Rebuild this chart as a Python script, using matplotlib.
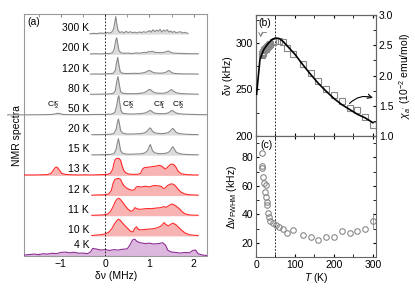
import matplotlib
matplotlib.use("Agg")
import matplotlib.pyplot as plt
from matplotlib.ticker import MultipleLocator, FixedLocator

plt.rcParams['font.family'] = ['Liberation Sans', 'DejaVu Sans']
plt.rcParams['mathtext.fontset'] = 'custom'
plt.rcParams['mathtext.rm'] = 'Liberation Sans'
plt.rcParams['mathtext.it'] = 'Liberation Sans:italic'
plt.rcParams['mathtext.bf'] = 'Liberation Sans:bold'
plt.rcParams['font.size'] = 7.5

# ---------------- panel (a) spectra (MHz, arbitrary height) ----------------
x300 = [-0.34,-0.25,-0.18,-0.1,-0.03,0.05,0.1,0.15,0.19,0.22,0.24,0.26,0.29,0.33,0.38,0.43,0.47,0.52,0.57,0.62,0.67,0.72,0.77,0.82,0.87,0.92,0.97,1.0,1.04,1.08,1.12,1.16,1.2,1.24,1.28,1.32,1.36,1.4,1.44,1.48,1.52,1.56,1.6,1.65,1.7,1.75,1.8,1.87]
y300 = [0.02,0.04,0.03,0.06,0.04,0.08,0.05,0.1,0.25,0.6,0.87,0.55,0.2,0.08,0.12,0.06,0.14,0.08,0.12,0.07,0.1,0.06,0.11,0.08,0.12,0.09,0.13,0.18,0.1,0.22,0.12,0.2,0.14,0.24,0.1,0.2,0.15,0.22,0.1,0.16,0.08,0.14,0.07,0.1,0.12,0.06,0.09,0.04]

x200 = [-0.33,-0.2,-0.1,0.0,0.1,0.17,0.21,0.24,0.26,0.28,0.31,0.35,0.42,0.5,0.6,0.7,0.8,0.88,0.94,0.98,1.02,1.06,1.12,1.2,1.28,1.35,1.4,1.44,1.48,1.55,1.65,1.8,1.95,2.1]
y200 = [0.02,0.03,0.02,0.04,0.04,0.08,0.3,0.7,0.82,0.6,0.2,0.08,0.05,0.06,0.04,0.07,0.06,0.1,0.08,0.14,0.12,0.16,0.1,0.09,0.08,0.11,0.15,0.16,0.1,0.06,0.05,0.04,0.03,0.03]

x120 = [-0.33,-0.2,-0.1,0.0,0.1,0.18,0.23,0.26,0.285,0.31,0.34,0.38,0.45,0.55,0.65,0.75,0.85,0.92,0.97,1.0,1.03,1.07,1.12,1.2,1.3,1.38,1.43,1.46,1.5,1.55,1.65,1.8,1.95,2.1]
y120 = [0.02,0.03,0.02,0.03,0.04,0.06,0.2,0.6,0.85,0.5,0.15,0.07,0.05,0.05,0.06,0.05,0.08,0.12,0.18,0.2,0.17,0.12,0.08,0.07,0.07,0.12,0.2,0.18,0.1,0.06,0.04,0.03,0.03,0.02]

x80 = [-0.33,-0.2,-0.1,0.0,0.1,0.18,0.23,0.26,0.29,0.32,0.35,0.4,0.5,0.6,0.7,0.8,0.88,0.94,0.98,1.02,1.06,1.1,1.16,1.25,1.35,1.42,1.47,1.5,1.54,1.6,1.7,1.85,2.0,2.1]
y80 = [0.02,0.02,0.03,0.03,0.04,0.06,0.2,0.6,0.9,0.5,0.15,0.07,0.05,0.05,0.05,0.07,0.1,0.17,0.24,0.26,0.18,0.12,0.08,0.07,0.08,0.14,0.22,0.25,0.18,0.1,0.06,0.04,0.03,0.02]

x50 = [-2.2,-1.8,-1.4,-1.2,-1.12,-1.07,-1.02,-0.95,-0.8,-0.5,-0.2,0.0,0.15,0.22,0.26,0.29,0.31,0.33,0.36,0.4,0.5,0.6,0.7,0.8,0.9,0.96,1.0,1.03,1.06,1.1,1.16,1.25,1.35,1.43,1.48,1.52,1.56,1.62,1.7,1.85,2.0,2.15,2.3]
y50 = [0.0,0.0,0.01,0.02,0.05,0.08,0.06,0.02,0.01,0.01,0.02,0.02,0.04,0.12,0.45,0.85,0.95,0.6,0.2,0.08,0.05,0.04,0.05,0.06,0.09,0.15,0.2,0.22,0.16,0.1,0.07,0.06,0.06,0.1,0.18,0.22,0.15,0.08,0.05,0.03,0.02,0.01,0.01]

x20 = [-0.3,-0.15,0.0,0.12,0.2,0.25,0.28,0.3,0.32,0.35,0.4,0.5,0.6,0.7,0.8,0.88,0.94,0.98,1.01,1.03,1.06,1.1,1.16,1.25,1.35,1.42,1.47,1.51,1.53,1.56,1.6,1.66,1.75,1.9,2.1]
y20 = [0.02,0.02,0.03,0.04,0.08,0.3,0.65,0.8,0.6,0.22,0.09,0.05,0.05,0.06,0.07,0.1,0.17,0.28,0.35,0.33,0.22,0.13,0.09,0.07,0.08,0.12,0.2,0.3,0.33,0.25,0.14,0.08,0.05,0.03,0.02]

x15 = [-0.3,-0.15,0.0,0.12,0.2,0.25,0.28,0.3,0.32,0.35,0.4,0.5,0.6,0.7,0.8,0.88,0.94,0.98,1.0,1.02,1.04,1.07,1.12,1.2,1.3,1.38,1.44,1.48,1.51,1.53,1.56,1.6,1.66,1.75,1.9,2.1]
y15 = [0.02,0.02,0.03,0.04,0.08,0.3,0.65,0.82,0.6,0.22,0.09,0.05,0.05,0.06,0.07,0.1,0.18,0.32,0.45,0.53,0.42,0.22,0.12,0.08,0.08,0.1,0.16,0.26,0.38,0.42,0.32,0.16,0.09,0.05,0.03,0.02]

x13 = [-1.82,-1.6,-1.4,-1.3,-1.22,-1.17,-1.13,-1.1,-1.07,-1.03,-0.98,-0.9,-0.75,-0.6,-0.45,-0.3,-0.15,-0.05,0.05,0.12,0.17,0.2,0.23,0.27,0.31,0.35,0.38,0.42,0.47,0.55,0.65,0.75,0.8,0.84,0.88,0.95,1.05,1.15,1.22,1.27,1.32,1.36,1.4,1.44,1.48,1.52,1.56,1.6,1.65,1.72,1.8,1.9,2.0,2.1]
y13 = [0.02,0.02,0.03,0.04,0.1,0.25,0.38,0.41,0.38,0.25,0.1,0.05,0.03,0.02,0.03,0.02,0.03,0.04,0.05,0.1,0.3,0.6,0.8,0.84,0.85,0.75,0.5,0.25,0.12,0.06,0.05,0.06,0.1,0.3,0.38,0.4,0.43,0.46,0.5,0.47,0.38,0.32,0.38,0.48,0.55,0.56,0.52,0.4,0.2,0.08,0.05,0.03,0.02,0.02]

x12 = [-0.3,-0.15,0.0,0.08,0.14,0.18,0.22,0.26,0.3,0.35,0.38,0.42,0.48,0.55,0.62,0.67,0.7,0.74,0.8,0.9,1.0,1.1,1.2,1.27,1.32,1.36,1.4,1.45,1.5,1.55,1.6,1.65,1.72,1.8,1.9,2.0,2.1]
y12 = [0.02,0.03,0.04,0.08,0.25,0.6,0.8,0.83,0.85,0.8,0.65,0.5,0.38,0.3,0.26,0.3,0.42,0.45,0.42,0.46,0.43,0.5,0.48,0.45,0.35,0.38,0.48,0.55,0.58,0.55,0.45,0.3,0.16,0.08,0.04,0.03,0.02]

x11 = [-0.3,-0.15,-0.05,0.05,0.12,0.18,0.23,0.27,0.31,0.35,0.4,0.45,0.52,0.58,0.63,0.67,0.71,0.76,0.85,0.95,1.05,1.15,1.25,1.32,1.38,1.44,1.5,1.55,1.6,1.67,1.73,1.8,1.9,2.0,2.1]
y11 = [0.02,0.03,0.04,0.08,0.2,0.45,0.7,0.82,0.87,0.8,0.65,0.5,0.32,0.22,0.25,0.4,0.36,0.32,0.33,0.36,0.35,0.38,0.4,0.45,0.42,0.5,0.58,0.55,0.48,0.36,0.22,0.1,0.04,0.03,0.02]

x10 = [-0.3,-0.2,-0.1,0.0,0.08,0.15,0.2,0.25,0.3,0.34,0.4,0.46,0.52,0.58,0.63,0.67,0.71,0.75,0.8,0.9,1.0,1.1,1.2,1.27,1.33,1.38,1.43,1.48,1.54,1.6,1.66,1.72,1.8,1.9,2.0,2.1]
y10 = [0.02,0.04,0.06,0.1,0.18,0.35,0.55,0.72,0.83,0.78,0.62,0.48,0.35,0.22,0.2,0.38,0.45,0.32,0.3,0.32,0.34,0.36,0.42,0.5,0.66,0.55,0.5,0.58,0.63,0.55,0.42,0.3,0.15,0.06,0.03,0.02]

x4 = [-1.82,-1.7,-1.6,-1.5,-1.4,-1.3,-1.2,-1.1,-1.0,-0.9,-0.8,-0.7,-0.6,-0.5,-0.4,-0.33,-0.28,-0.2,-0.1,0.0,0.1,0.2,0.3,0.4,0.5,0.56,0.62,0.67,0.72,0.8,0.9,1.0,1.1,1.2,1.3,1.36,1.42,1.5,1.6,1.7,1.8,1.9,1.98,2.04,2.1,2.2,2.3]
y4 = [0.05,0.08,0.1,0.07,0.12,0.1,0.14,0.12,0.18,0.2,0.16,0.19,0.14,0.15,0.12,0.2,0.38,0.35,0.3,0.32,0.28,0.32,0.3,0.34,0.36,0.55,0.8,0.84,0.72,0.66,0.62,0.64,0.6,0.62,0.66,0.55,0.28,0.2,0.18,0.15,0.18,0.16,0.28,0.3,0.12,0.05,0.03]

temp_labels = ['4 K', '10 K', '11 K', '12 K', '13 K', '15 K', '20 K', '50 K', '80 K', '120 K', '200 K', '300 K']
spec_x = [x4, x10, x11, x12, x13, x15, x20, x50, x80, x120, x200, x300]
spec_y = [y4, y10, y11, y12, y13, y15, y20, y50, y80, y120, y200, y300]
spec_kind = ['p', 'r', 'r', 'r', 'r', 'g', 'g', 'g', 'g', 'g', 'g', 'g']

cl_labels = [r'Cl$_2^c$', r'Cl$_2^c$', r'Cl$_1^c$', r'Cl$_2^c$']
cl_pos = [-1.17, 0.52, 1.22, 1.65]

# ---------------- panel (b) ----------------
T_b = [15, 16, 17, 19, 21, 24, 25, 26, 27.5, 30, 33, 36, 43, 50, 60, 68, 79, 94, 120, 140, 160, 180, 200, 220, 240, 258, 280, 300]
shift_b = [287, 288, 289, 290.5, 292, 293.5, 294, 294.5, 295.5, 296.5, 298, 299, 300.5, 302.5, 302.5, 300.7, 294.3, 287.8, 277.4, 267.4, 259, 250.9, 244, 238, 230.4, 228, 220.8, 211.8]
T_chi = [1.5, 10, 15, 20, 30, 40, 50, 60, 70, 80, 100, 120, 140, 160, 180, 200, 220, 240, 260, 280, 300]
chi = [1.69, 2.26, 2.35, 2.43, 2.52, 2.59, 2.62, 2.61, 2.56, 2.49, 2.35, 2.18, 2.02, 1.87, 1.74, 1.62, 1.52, 1.44, 1.36, 1.30, 1.22]

# ---------------- panel (c) ----------------
T_c = [14.6, 16.3, 16.3, 18.9, 21.4, 24.8, 24, 25.7, 27.4, 27.4, 30, 33.4, 36, 42.8, 51.4, 60, 70.3, 78.8, 94.3, 120, 140.5, 160, 180, 199, 220, 240, 260, 280, 300]
fwhm = [82.9, 73.9, 72.3, 66, 61.8, 60.5, 55.9, 51.9, 48.8, 46.5, 40.7, 37.8, 35.3, 33.6, 32.4, 31.3, 29.4, 27, 28.9, 25.4, 23.8, 21.9, 23.8, 23.8, 28.2, 27, 28.2, 29.9, 35.5]
fwhm_err = [0]*28 + [5.5]

# ---------------- figure ----------------
fig = plt.figure(figsize=(4.15, 2.92), dpi=100)
axA = fig.add_axes([0.059, 0.1216, 0.4398, 0.8305])
axB = fig.add_axes([0.6169, 0.5342, 0.2892, 0.4144])
axC = fig.add_axes([0.6169, 0.1199, 0.2892, 0.4144])
axB2 = axB.twinx()

styles = {'g': ('#8a8a8a', '#dcdcdc'), 'r': ('#ff2a2a', '#f8b3b3'), 'p': ('#8e2f94', '#dcb8df')}
for i, (lab, xs, ys, k) in enumerate(zip(temp_labels, spec_x, spec_y, spec_kind)):
    lc, fc = styles[k]
    yy = [i + v for v in ys]
    axA.fill_between(xs, i, yy, color=fc, lw=0, zorder=2)
    axA.plot(xs, yy, color=lc, lw=0.8, zorder=3, clip_on=(lab != '50 K'))
    dy = 0.3 if lab == '4 K' else 0.05
    axA.text(-0.36, i + dy, lab, ha='right', va='bottom', fontsize=7.5, zorder=4)

for lab, xp in zip(cl_labels, cl_pos):
    axA.text(xp, 7.42, lab, ha='center', va='center', fontsize=6)

axA.axvline(0, color='k', lw=0.6, ls=(0, (2, 2)), zorder=5)
axA.set_xlim(-1.82, 2.3)
axA.set_ylim(-0.02, 12)
axA.set_yticks([])
axA.xaxis.set_major_locator(FixedLocator([-1, 0, 1, 2]))
axA.xaxis.set_minor_locator(MultipleLocator(0.5))
axA.tick_params(axis='x', which='both', direction='in', top=True, color='#888888', labelsize=7.5, pad=2)
axA.tick_params(axis='x', which='major', length=2.5)
axA.tick_params(axis='x', which='minor', length=2.5)
axA.set_xlabel('δν (MHz)', labelpad=1)
axA.set_ylabel('NMR spectra', labelpad=2)
for s in axA.spines.values():
    s.set_color('#999999')
    s.set_linewidth(0.8)
axA.text(0.015, 0.965, '(a)', transform=axA.transAxes, ha='left', va='center')

# panel (b)
axB.plot(T_b, shift_b, ls='none', marker='s', ms=4, mfc='none', mec='#888888', mew=0.8, zorder=3)
axB2.plot(T_chi, chi, color='k', lw=1.2, zorder=4)
axB.axvline(50, color='k', lw=0.6, ls=(0, (2, 2)))
axB.set_xlim(0, 308)
axB.set_ylim(200, 330)
axB2.set_ylim(1.0, 3.0)
axB.yaxis.set_major_locator(FixedLocator([200, 250, 300]))
axB.yaxis.set_minor_locator(MultipleLocator(25))
axB2.yaxis.set_major_locator(FixedLocator([1.0, 1.5, 2.0, 2.5, 3.0]))
axB2.yaxis.set_minor_locator(MultipleLocator(0.25))
axB2.set_yticklabels(['1.0', '1.5', '2.0', '2.5', '3.0'])
axB.xaxis.set_major_locator(MultipleLocator(100))
axB.xaxis.set_minor_locator(MultipleLocator(50))
axB.tick_params(axis='x', which='both', direction='in', top=True, labelbottom=False, length=2.5)
axB.tick_params(axis='y', which='both', direction='in', length=2.5, labelsize=7.5, pad=2)
axB2.tick_params(axis='y', which='both', direction='in', length=2.5, labelsize=7.5, pad=2)
axB.set_ylabel('δν (kHz)', labelpad=2)
axB2.set_ylabel(r"$\chi_{a'}$ (10$^{-2}$ emu/mol)", labelpad=3)
axB.text(0.02, 0.93, '(b)', transform=axB.transAxes, ha='left', va='center')
axB.annotate('', xy=(12, 306), xytext=(27, 311),
             arrowprops=dict(arrowstyle='->', connectionstyle='arc3,rad=0.6', color='#777777', lw=0.6, shrinkA=0, shrinkB=0))
axB.annotate('', xy=(300, 241), xytext=(240, 235),
             arrowprops=dict(arrowstyle='->', connectionstyle='arc3,rad=-0.3', color='k', lw=0.8, shrinkA=0, shrinkB=0))

# panel (c)
axC.errorbar(T_c, fwhm, yerr=fwhm_err, ls='none', marker='o', ms=4, mfc='none', mec='#888888', mew=0.8,
             ecolor='#888888', elinewidth=0.6, capsize=0)
axC.axvline(50, color='k', lw=0.6, ls=(0, (2, 2)))
axC.set_xlim(0, 308)
axC.set_ylim(10, 95)
axC.yaxis.set_major_locator(FixedLocator([20, 40, 60, 80]))
axC.yaxis.set_minor_locator(MultipleLocator(10))
axC.xaxis.set_major_locator(FixedLocator([0, 100, 200, 300]))
axC.xaxis.set_minor_locator(MultipleLocator(50))
axC.tick_params(axis='both', which='both', direction='in', top=True, right=True, length=2.5, labelsize=7.5, pad=2)
axC.set_xlabel('$T$ (K)', labelpad=1)
axC.set_ylabel('Δν$_{\\mathrm{FWHM}}$ (kHz)', labelpad=2)
axC.text(0.04, 0.925, '(c)', transform=axC.transAxes, ha='left', va='center')

for ax in (axB, axB2, axC):
    for s in ax.spines.values():
        s.set_color('#666666')
        s.set_linewidth(0.8)

fig.savefig('out.png', dpi=100)
